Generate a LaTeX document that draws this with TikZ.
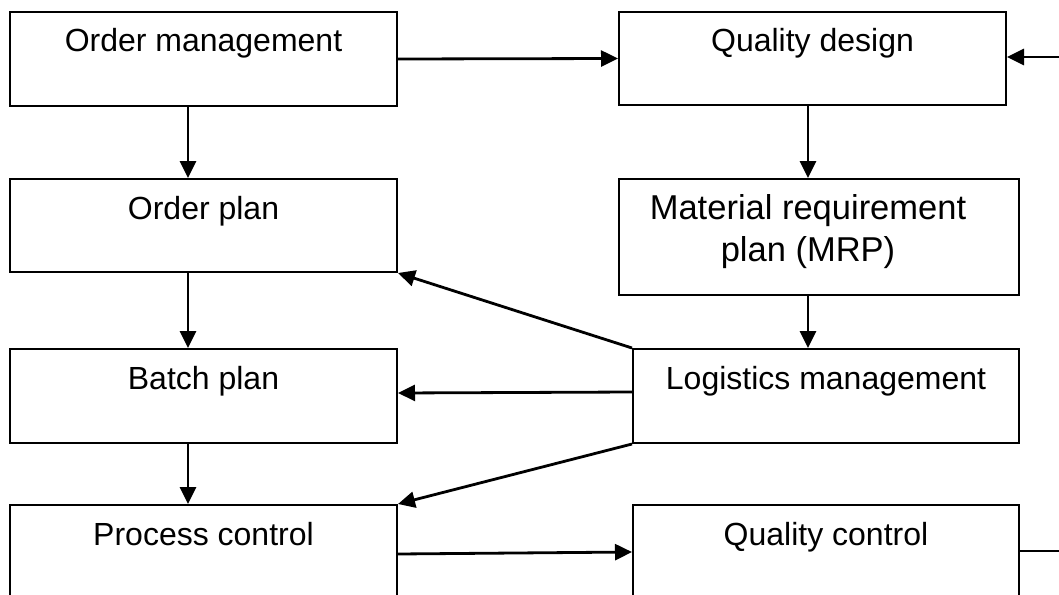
\documentclass[tikz,border=0pt]{standalone}
\usepackage{fontspec}
\setmainfont{Liberation Sans}
\usetikzlibrary{arrows.meta,calc}

\begin{document}
\begin{tikzpicture}[x=1pt,y=-1pt,
  box/.style={draw=black,line width=2pt,rectangle,inner sep=0pt,anchor=north west},
  lbl/.style={inner sep=0pt,anchor=base,font=\fontsize{32}{42}\selectfont,align=center},
  arr/.style={line width=2.8pt,-{Triangle[length=17pt,width=16pt]}},
  line/.style={line width=2.4pt}]
\useasboundingbox (0,0) rectangle (1059,594);
\clip (0,0) rectangle (1059,594);

% left column
\node[box,minimum width=387pt,minimum height=94pt] (om) at (9,11) {};
\node[box,minimum width=387pt,minimum height=93pt] (op) at (9,178) {};
\node[box,minimum width=387pt,minimum height=94pt] (bp) at (9,348) {};
\node[box,minimum width=387pt,minimum height=140pt] (pc) at (9,504) {};

% right column
\node[box,minimum width=387pt,minimum height=93pt] (qd) at (618,11) {};
\node[box,minimum width=400pt,minimum height=116pt] (mrp) at (618,178) {};
\node[box,minimum width=386pt,minimum height=94pt] (lg) at (632,348) {};
\node[box,minimum width=386pt,minimum height=140pt] (qc) at (632,504) {};

% labels, first baseline 41pt below the top edge
\node[lbl] (omt) at ($(om.north)+(0,41)$) {Order management};
\node[lbl] (opt) at ($(op.north)+(0,41)$) {Order plan};
\node[lbl] (bpt) at ($(bp.north)+(0,41)$) {Batch plan};
\node[lbl] (pct) at ($(pc.north)+(0,41)$) {Process control};
\node[lbl] (qdt) at ($(qd.north)+(0,41)$) {Quality design};
% two-line label: its base anchor sits on the last line
\node[lbl,font=\fontsize{34.5}{42}\selectfont] (mrpt) at ($(mrp.north)+(-11,83)$) {Material requirement\\plan (MRP)};
\node[lbl] (lgt) at ($(lg.north)+(0,41)$) {Logistics management};
\node[lbl] (qct) at ($(qc.north)+(0,41)$) {Quality control};

% axes of the vertical connectors
\coordinate (lx) at (188,0);
\coordinate (rx) at (808,0);
\coordinate (fbin) at (1059,57);
\coordinate (fbout) at (1059,551);

% connectors
\draw[arr] (om.east) -- (qd.west);
\draw[arr] (om.south -| lx) -- (op.north -| lx);
\draw[arr] (op.south -| lx) -- (bp.north -| lx);
\draw[arr] (bp.south -| lx) -- (pc.north -| lx);
\draw[arr] (qd.south -| rx) -- (mrp.north -| rx);
\draw[arr] (mrp.south -| rx) -- (lg.north -| rx);
\draw[arr] (lg.north west) -- (op.south east);
\draw[arr] ($(lg.north west)+(0,44)$) -- ($(bp.north east)+(0,45)$);
\draw[arr] (lg.south west) -- (pc.north east);
\draw[arr] ($(pc.north east)+(0,50)$) -- ($(qc.north west)+(0,48)$);
\draw[line] (qc.east |- fbout) -- (fbout);
\draw[arr] (fbin) -- (qd.east |- fbin);
\end{tikzpicture}
\end{document}
